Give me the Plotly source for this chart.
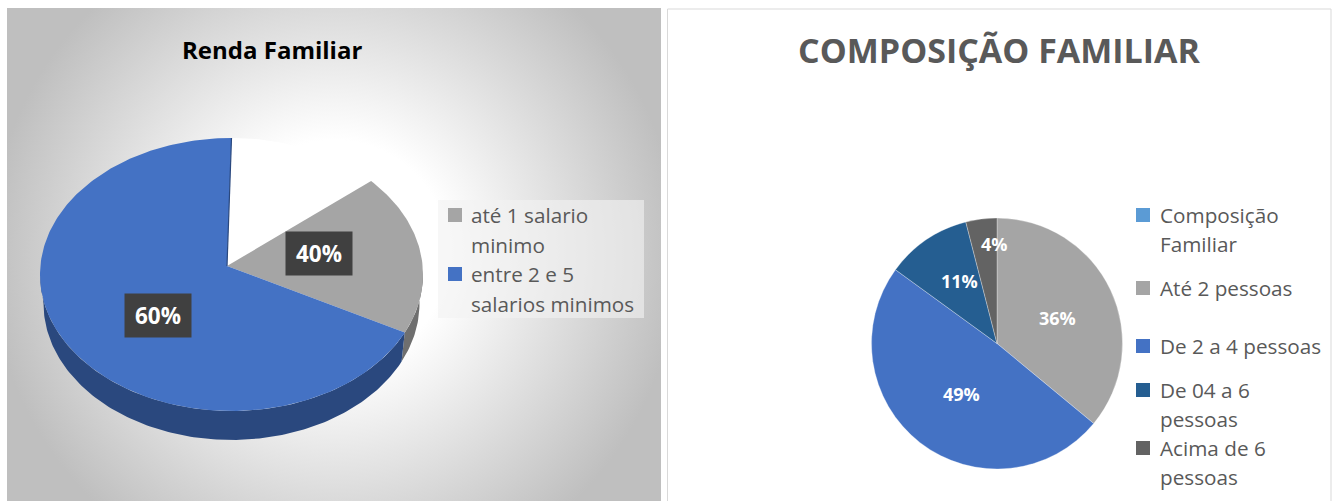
import math
import plotly.graph_objects as go
from urllib.parse import quote

W, H = 1335, 501

# ---- data: Renda Familiar ----
renda_categories = ["(sem rótulo)", "até 1 salario<br>minimo", "entre 2 e 5<br>salarios minimos"]
renda_drawn_shares = [13, 19, 68]          # slice sizes as drawn in the picture
renda_labels = ["", "40%", "60%"]          # printed labels
renda_colors = ["#FFFFFF", "#A5A5A5", "#4472C4"]
renda_side_colors = ["#FFFFFF", "#6F6F6F", "#2A487E"]

# ---- data: Composição Familiar ----
comp_categories = ["Composição<br>Familiar", "Até 2 pessoas", "De 2 a 4 pessoas", "De 04 a 6<br>pessoas", "Acima de 6<br>pessoas"]
comp_values = [0, 36, 49, 11, 4]
comp_colors = ["#5B9BD5", "#A5A5A5", "#4472C4", "#255E91", "#636363"]

FONT = "Open Sans"
TEXT = "#595959"


def px(x):
    return x / W


def py(y):
    return 1 - y / H


# unit ellipse of the left pie on its own hidden axes
CX, CY, RX, RY = 231.5, 274.5, 191.5, 136.5
DEPTH = 29 / RY
LOWER = 188 / RX
APEX = ((227 - CX) / RX, (CY - 266) / RY)


def rim(deg, scale=1.0, drop=0.0):
    t = math.radians(deg)
    return scale * math.sin(t), math.cos(t) - drop


def arc(a, b, **kw):
    n = max(2, int(abs(b - a)) + 1)
    return [rim(a + (b - a) * i / (n - 1), **kw) for i in range(n)]


fig = go.Figure()
total = sum(renda_drawn_shares)
edges = [0]
for s in renda_drawn_shares:
    edges.append(edges[-1] + s / total * 360)

# side walls (only the part that faces the viewer, 90..270 degrees)
for i in (1, 2):
    a, b = max(edges[i], 88), min(edges[i + 1], 270)
    pts = arc(a, b) + arc(b, a, scale=LOWER, drop=DEPTH)
    pts.append(pts[0])
    fig.add_trace(go.Scatter(x=[p[0] for p in pts], y=[p[1] for p in pts], mode="lines",
                             line=dict(width=0), fill="toself", fillcolor=renda_side_colors[i],
                             hoverinfo="skip", showlegend=False, xaxis="x", yaxis="y"))

# top faces
for i in range(3):
    pts = [APEX] + arc(edges[i], edges[i + 1]) + [APEX]
    fig.add_trace(go.Scatter(x=[p[0] for p in pts], y=[p[1] for p in pts], mode="lines",
                             line=dict(width=0), fill="toself", fillcolor=renda_colors[i],
                             name=renda_categories[i].replace("<br>", " "),
                             hoverinfo="skip", showlegend=False, xaxis="x", yaxis="y"))

# cut face of the blue slice along the white gap
top = rim(edges[3])
fig.add_trace(go.Scatter(x=[APEX[0], top[0]], y=[APEX[1], top[1]], mode="lines",
                         line=dict(width=1.2, color=renda_side_colors[2]),
                         hoverinfo="skip", showlegend=False, xaxis="x", yaxis="y"))

# right pie
fig.add_trace(go.Pie(labels=[c.replace("<br>", " ") for c in comp_categories], values=comp_values,
                     sort=False, direction="clockwise", rotation=0, textinfo="none",
                     marker=dict(colors=comp_colors, line=dict(color="rgba(255,255,255,0.6)", width=0.5)),
                     domain=dict(x=[px(871.5), px(1122.5)], y=[py(469), py(218)]),
                     showlegend=False, hoverinfo="label+percent"))

ann, shapes = [], []


def text(x, y, s, size, color=TEXT, bold=False, anchor="left", **kw):
    ann.append(dict(xref="paper", yref="paper", x=px(x), y=py(y), text=f"<b>{s}</b>" if bold else s,
                    showarrow=False, xanchor=anchor, yanchor="middle",
                    font=dict(family=FONT, size=size, color=color), **kw))


def rect(x0, y0, x1, y1, fill, line=None, layer="below"):
    shapes.append(dict(type="rect", xref="paper", yref="paper", x0=px(x0), x1=px(x1), y0=py(y1), y1=py(y0),
                       fillcolor=fill, line=dict(color=line or fill, width=1 if line else 0), layer=layer))


# panels
rect(667.5, 9, 1331, 503, "#FFFFFF", "#D9D9D9")

# radial gradient of the left panel
svg = ('<svg xmlns="http://www.w3.org/2000/svg" width="654" height="493">'
       '<defs><radialGradient id="g" gradientUnits="userSpaceOnUse" cx="327" cy="246" r="345">'
       '<stop offset="0.33" stop-color="#FFFFFF"/><stop offset="1" stop-color="#BFBFBF"/></radialGradient></defs>'
       '<rect width="654" height="493" fill="url(#g)"/></svg>')
images = [dict(source="data:image/svg+xml," + quote(svg), xref="paper", yref="paper", x=px(7), y=py(8),
               sizex=654 / W, sizey=493 / H, xanchor="left", yanchor="top", sizing="stretch", layer="below")]

# titles
text(272, 49, "Renda Familiar", 24, color="#000000", bold=True, anchor="center")
text(999.5, 50, "COMPOSIÇÃO FAMILIAR", 34, bold=True, anchor="center")

# left legend
rect(438, 200, 644, 318, "rgba(242,242,242,0.62)", layer="above")
for i, top_y, sw in ((1, 215, 215), (2, 274, 274)):
    rect(448, sw - 7, 462, sw + 7, renda_colors[i], layer="above")
    for j, part in enumerate(renda_categories[i].split("<br>")):
        text(469, top_y + j * 29.5, part, 20.7)

# left data labels
for i, x, y in ((1, 319, 254), (2, 157.5, 315)):
    ann.append(dict(xref="paper", yref="paper", x=px(x), y=py(y), text=f"<b>{renda_labels[i]}</b>",
                    showarrow=False, xanchor="center", yanchor="middle", width=64, height=41,
                    bgcolor="#404040", align="center", valign="middle",
                    font=dict(family=FONT, size=22.5, color="#FFFFFF")))

# right data labels
for i, x, y in ((1, 1057, 318), (2, 961, 394), (3, 959, 281), (4, 994, 244)):
    text(x, y, f"{comp_values[i]}%", 18, color="#FFFFFF", bold=True, anchor="center")

# right legend
for i, (sw, lines_y) in enumerate(((215, (215, 244)), (288, (288,)), (346, (346,)), (390, (390, 419)), (448, (448, 477)))):
    rect(1136, sw - 7, 1150, sw + 7, comp_colors[i], layer="above")
    for part, ly in zip(comp_categories[i].split("<br>"), lines_y):
        text(1158, ly, part, 20.7)

fig.update_layout(
    width=W, height=H, autosize=False, margin=dict(l=0, r=0, t=0, b=0),
    paper_bgcolor="#FFFFFF", plot_bgcolor="rgba(0,0,0,0)",
    xaxis=dict(domain=[px(7), px(661)], range=[(7 - CX) / RX, (661 - CX) / RX], visible=False, fixedrange=True),
    yaxis=dict(domain=[0, py(8)], range=[(CY - 501) / RY, (CY - 8) / RY], visible=False, fixedrange=True),
    annotations=ann, shapes=shapes, images=images,
)
fig.write_html("out.html", config=dict(displayModeBar=False),
               post_script="document.body.style.margin='0';document.documentElement.style.overflow='hidden';")
